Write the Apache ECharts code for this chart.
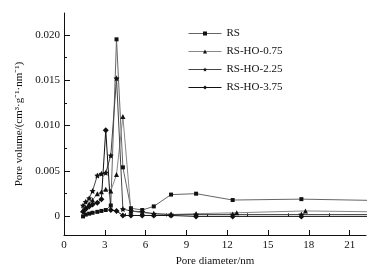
<!DOCTYPE html>
<html>
<head>
<meta charset="utf-8">
<script src="https://cdn.jsdelivr.net/npm/echarts@6/dist/echarts.min.js"></script>
<style>
html,body{margin:0;padding:0;background:#fff;}
#chart{width:387px;height:272px;}
</style>
</head>
<body>
<div id="chart"></div>
<script>
/*---------------------- 数据 ----------------------*/
var seriesNames = ['RS', 'RS-HO-0.75', 'RS-HO-2.25', 'RS-HO-3.75'];
// 孔径 (nm)
var rsX  = [1.4, 1.6, 1.85, 2.1, 2.45, 2.75, 3.07, 3.44, 3.86, 4.33, 4.92, 5.75, 6.6, 7.87, 9.71, 12.4, 17.45, 23];
var rsY  = [0.0000, 0.0002, 0.0003, 0.0004, 0.0005, 0.0006, 0.0007, 0.0012, 0.0195, 0.0054, 0.0009, 0.0007, 0.0011, 0.0024, 0.0025, 0.0018, 0.0019, 0.00175];
var ho075X = [1.4, 1.6, 1.85, 2.1, 2.45, 2.75, 3.07, 3.44, 3.86, 4.33, 4.92, 5.75, 6.6, 7.87, 9.71, 12.7, 17.75, 23];
var ho075Y = [0.0007, 0.0010, 0.0014, 0.0018, 0.0025, 0.0027, 0.0030, 0.0028, 0.0046, 0.0110, 0.0006, 0.0004, 0.0003, 0.0002, 0.0003, 0.0004, 0.0006, 0.0005];
var ho225X = [1.4, 1.6, 1.85, 2.1, 2.45, 2.75, 3.07, 3.44, 3.86, 4.33, 4.92, 5.75, 6.6, 7.87, 9.71, 12.4, 17.45, 23];
var ho225Y = [0.0012, 0.0016, 0.0020, 0.0028, 0.0045, 0.0047, 0.0048, 0.0067, 0.0152, 0.0008, 0.0006, 0.0005, 0.0003, 0.0002, 0.0002, 0.0002, 0.0002, 0.0002];
var ho375X = [1.4, 1.6, 1.85, 2.1, 2.45, 2.75, 3.07, 3.44, 3.86, 4.33, 4.92, 5.75, 6.6, 7.87, 9.71, 12.4, 17.45, 23];
var ho375Y = [0.0005, 0.0008, 0.0011, 0.0013, 0.0015, 0.0019, 0.0095, 0.0007, 0.0006, 0.0001, 0.0001, 0.0001, 0.0001, 0.0001, 0.0000, 0.0000, 0.0000, 0.0000];
// 刻度
var xMajor = [0, 3, 6, 9, 12, 15, 18, 21];
var xMinor = [1.5, 4.5, 7.5, 10.5, 13.5, 16.5, 19.5];
var yMajor = [0, 0.005, 0.010, 0.015, 0.020];
var yMinor = [0.0025, 0.0075, 0.0125, 0.0175, 0.0225];

function pairs(xs, ys){
    var out = [];
    for(var i=0;i<xs.length;i++){
        out.push([xs[i], ys[i]]);
    }
    return out;
}
function fmtY(v){
    if(v === 0){ return '0'; }
    return v.toFixed(3);
}

var starPath = 'path://M0,-10L2.9,-4L9.5,-3.1L4.7,1.5L5.9,8.1L0,5L-5.9,8.1L-4.7,1.5L-9.5,-3.1L-2.9,-4Z';
var serif = '"Liberation Serif","Times New Roman",serif';
var xMin = 0, xMax = 22.2, yMin = -0.00205, yMax = 0.0224;

/*---------------------- echarts 初始化 ----------------------*/
var myChart = echarts.init(document.getElementById('chart'));
var option = {
    backgroundColor: '#fff',
    animation: false,
    textStyle: { fontFamily: serif, color: '#111' },
    grid: [
        { left: 64, right: 21, top: 13, bottom: 37 }
    ],
    legend: {
        orient: 'vertical',
        left: 183,
        top: 23,
        itemWidth: 33,
        itemHeight: 5,
        itemGap: 7,
        lineStyle: { width: 1 },
        textStyle: { fontFamily: serif, fontSize: 11, color: '#111' },
        data: seriesNames
    },
    xAxis: [
        {
            type: 'value', min: xMin, max: xMax,
            name: 'Pore diameter/nm', nameLocation: 'middle', nameGap: 17,
            nameTextStyle: { fontFamily: serif, fontSize: 11, color: '#111' },
            axisLine: { show: true, onZero: false, lineStyle: { color: '#111', width: 1 } },
            axisTick: { show: true, inside: true, length: 5, customValues: xMajor, lineStyle: { color: '#111' } },
            axisLabel: { customValues: xMajor, fontFamily: serif, fontSize: 11, color: '#111', margin: 5 },
            splitLine: { show: false }
        },
        {
            type: 'value', min: xMin, max: xMax, position: 'bottom',
            axisLine: { show: false },
            axisTick: { show: true, inside: true, length: 3, customValues: xMinor, lineStyle: { color: '#111' } },
            axisLabel: { show: false },
            splitLine: { show: false }
        }
    ],
    yAxis: [
        {
            type: 'value', min: yMin, max: yMax,
            name: 'Pore volume/(cm³·g⁻¹·nm⁻¹)', nameLocation: 'middle', nameGap: 38, nameRotate: 90,
            nameTextStyle: { fontFamily: serif, fontSize: 11, color: '#111' },
            axisLine: { show: true, onZero: false, lineStyle: { color: '#111', width: 1 } },
            axisTick: { show: true, inside: true, length: 6, customValues: yMajor, lineStyle: { color: '#111' } },
            axisLabel: { customValues: yMajor, formatter: fmtY, fontFamily: serif, fontSize: 11, color: '#111', margin: 4 },
            splitLine: { show: false }
        },
        {
            type: 'value', min: yMin, max: yMax, position: 'left',
            axisLine: { show: false },
            axisTick: { show: true, inside: true, length: 3, customValues: yMinor, lineStyle: { color: '#111' } },
            axisLabel: { show: false },
            splitLine: { show: false }
        }
    ],
    series: [
        {
            name: 'RS', type: 'line', clip: true,
            symbol: 'rect', symbolSize: 4,
            itemStyle: { color: '#111' },
            lineStyle: { color: '#666', width: 1 },
            data: pairs(rsX, rsY)
        },
        {
            name: 'RS-HO-0.75', type: 'line', clip: true,
            symbol: 'triangle', symbolSize: 5,
            itemStyle: { color: '#111' },
            lineStyle: { color: '#888', width: 1 },
            data: pairs(ho075X, ho075Y)
        },
        {
            name: 'RS-HO-2.25', type: 'line', clip: true,
            symbol: starPath, symbolSize: 6,
            itemStyle: { color: '#111' },
            lineStyle: { color: '#444', width: 1 },
            data: pairs(ho225X, ho225Y)
        },
        {
            name: 'RS-HO-3.75', type: 'line', clip: true,
            symbol: 'diamond', symbolSize: 6,
            itemStyle: { color: '#111' },
            lineStyle: { color: '#111', width: 1 },
            data: pairs(ho375X, ho375Y)
        }
    ]
};
myChart.setOption(option);
</script>
</body>
</html>
